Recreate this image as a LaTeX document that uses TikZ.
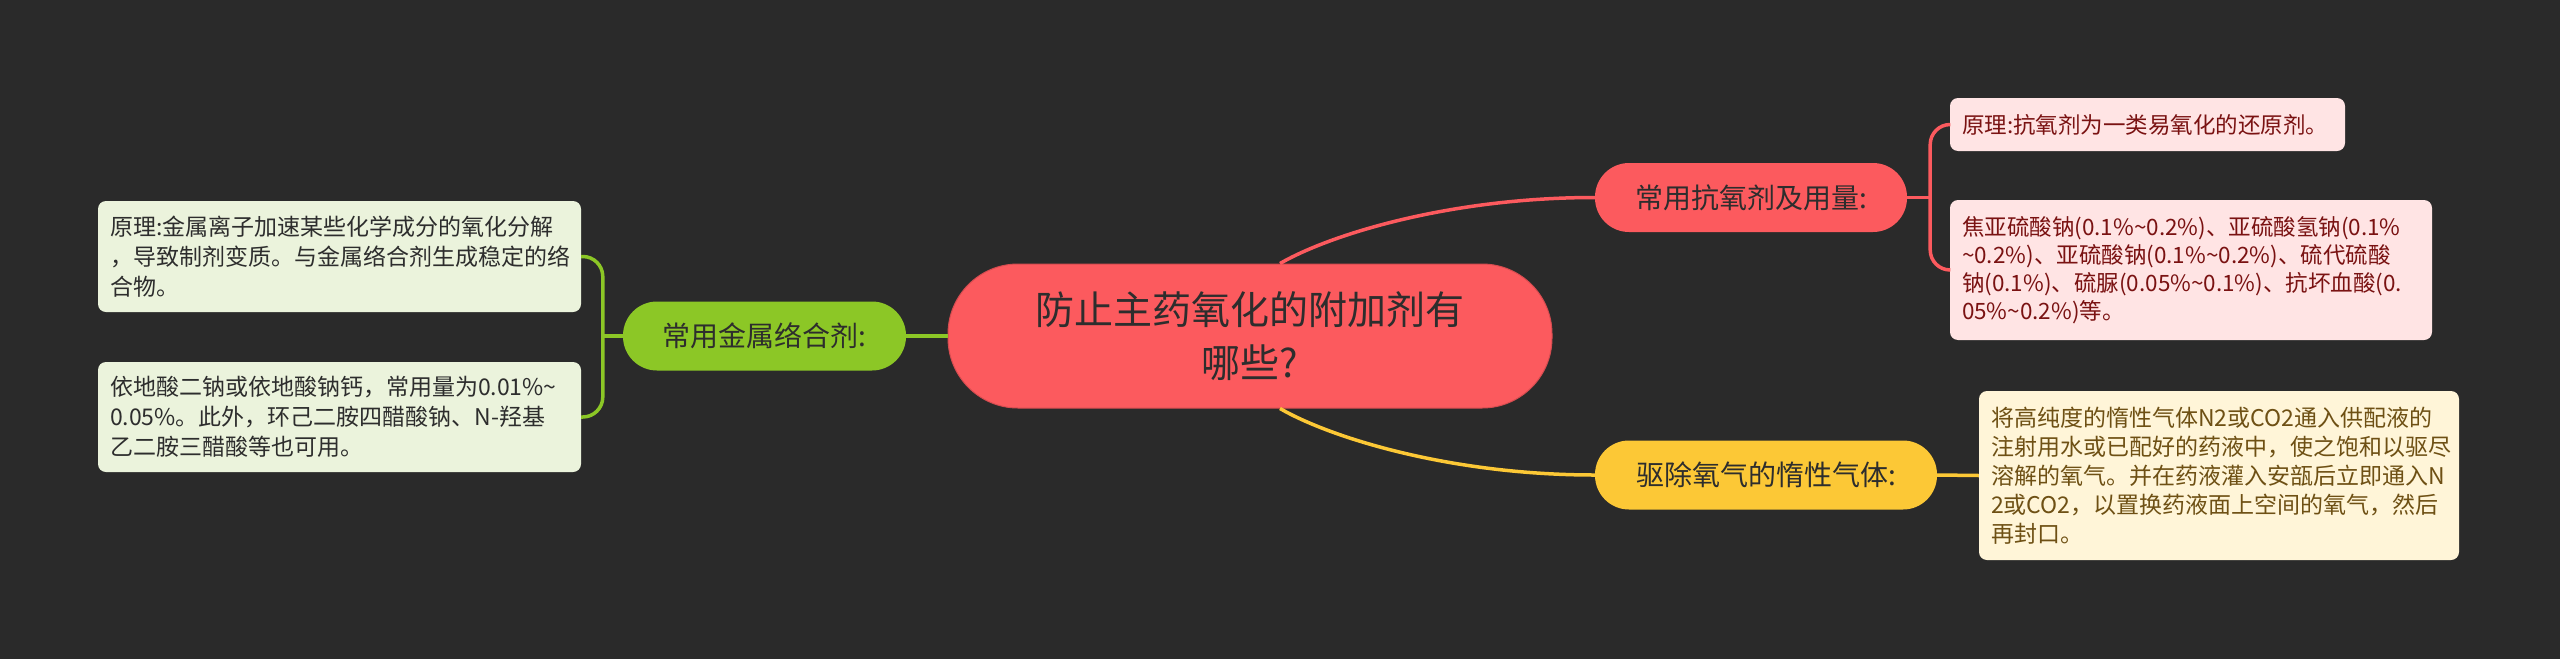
\documentclass[tikz,border=0pt]{standalone}
\usepackage{fontspec}
\newfontfamily\cjk{Noto Sans CJK SC}
\usetikzlibrary{calc}
\definecolor{bg}{RGB}{42,42,42}
\definecolor{mred}{RGB}{252,90,94}
\definecolor{mgreen}{RGB}{140,199,38}
\definecolor{myellow}{RGB}{252,200,54}
\definecolor{lred}{RGB}{255,228,228}
\definecolor{lgreen}{RGB}{235,243,220}
\definecolor{lyellow}{RGB}{255,245,216}
\definecolor{tred}{RGB}{122,18,18}
\definecolor{tyellow}{RGB}{110,80,20}
\definecolor{tdark}{RGB}{45,45,45}
\begin{document}
\begin{tikzpicture}[x=1pt,y=-1pt,
  mainbox/.style={rounded corners=70pt, fill=mred, draw=mred!85!black, line width=1pt,
    minimum width=604pt, minimum height=144pt, inner sep=0pt, align=center,
    text=tdark, font=\cjk\fontsize{39}{53}\selectfont},
  topic/.style={rounded corners=34pt, minimum height=69pt, inner sep=0pt, align=center,
    text=tdark, font=\cjk\fontsize{28}{34}\selectfont},
  leaf/.style={rounded corners=8pt, inner xsep=12pt, inner ysep=0pt, align=left,
    font=\cjk\fontsize{23}{30}\selectfont},
  link/.style={line width=3.5pt}
]
\useasboundingbox (0,0) rectangle (2560,659);
\fill[bg] (0,0) rectangle (2560,659);

% central node
\node[mainbox] (c) at (1250,336) {防止主药氧化的附加剂有\\哪些?};

% topics
\node[topic, fill=mgreen, minimum width=283pt] (g) at (764.5,336) {常用金属络合剂:};
\node[topic, fill=mred, minimum width=312pt] (r) at (1751,197.5) {常用抗氧剂及用量:};
\node[topic, fill=myellow, minimum width=342pt] (yel) at (1766,475) {驱除氧气的惰性气体:};

% green leaves
\node[leaf, fill=lgreen, text=tdark, text width=459pt, minimum height=111pt] (gl1) at (339.5,256.5)
  {原理:金属离子加速某些化学成分的氧化分解\\，导致制剂变质。与金属络合剂生成稳定的络\\合物。};
\node[leaf, fill=lgreen, text=tdark, text width=459pt, minimum height=110pt] (gl2) at (339.5,417)
  {依地酸二钠或依地酸钠钙，常用量为0.01\%\textasciitilde\\0.05\%。此外，环己二胺四醋酸钠、N-羟基\\乙二胺三醋酸等也可用。};

% red leaves
\node[leaf, fill=lred, text=tred, text width=371pt, minimum height=53pt,
  font=\cjk\fontsize{22.5}{28}\selectfont] (rl1) at (2147.5,124.5)
  {原理:抗氧剂为一类易氧化的还原剂。};
\node[leaf, fill=lred, text=tred, text width=458pt, minimum height=140pt,
  font=\cjk\fontsize{22.5}{28}\selectfont] (rl2) at (2191,270)
  {焦亚硫酸钠(0.1\%\textasciitilde0.2\%)、亚硫酸氢钠(0.1\%\\\textasciitilde0.2\%)、亚硫酸钠(0.1\%\textasciitilde0.2\%)、硫代硫酸\\钠(0.1\%)、硫脲(0.05\%\textasciitilde0.1\%)、抗坏血酸(0.\\05\%\textasciitilde0.2\%)等。};

% yellow leaf
\node[leaf, fill=lyellow, text=tyellow, text width=456pt, minimum height=169pt,
  font=\cjk\fontsize{23}{29}\selectfont] (yl) at (2219,475.5)
  {将高纯度的惰性气体N2或CO2通入供配液的\\注射用水或已配好的药液中，使之饱和以驱尽\\溶解的氧气。并在药液灌入安瓿后立即通入N\\2或CO2，以置换药液面上空间的氧气，然后\\再封口。};

% connectors from centre
\draw[link, mred] ([xshift=30pt]c.north) .. controls +(50,-29) and +(-145,0) .. (r.west);
\draw[link, myellow] ([xshift=30pt]c.south) .. controls +(50,29) and +(-145,0) .. (yel.west);
\draw[link, mgreen] (g.east) -- (c.west);

% green bracket
\coordinate (gb) at ($(g.west)+(-20,0)$);
\draw[link, mgreen] (g.west) -- (gb);
\draw[link, mgreen, rounded corners=20pt] (gl1.east) -| (gb) |- (gl2.east);

% red bracket
\coordinate (rb) at ($(r.east)+(23,0)$);
\draw[link, mred] (r.east) -- (rb);
\draw[link, mred, rounded corners=20pt] (rl1.west) -| (rb) |- (rl2.west);

% yellow link
\draw[link, myellow] (yel.east) -- (yl.west);
\end{tikzpicture}
\end{document}
